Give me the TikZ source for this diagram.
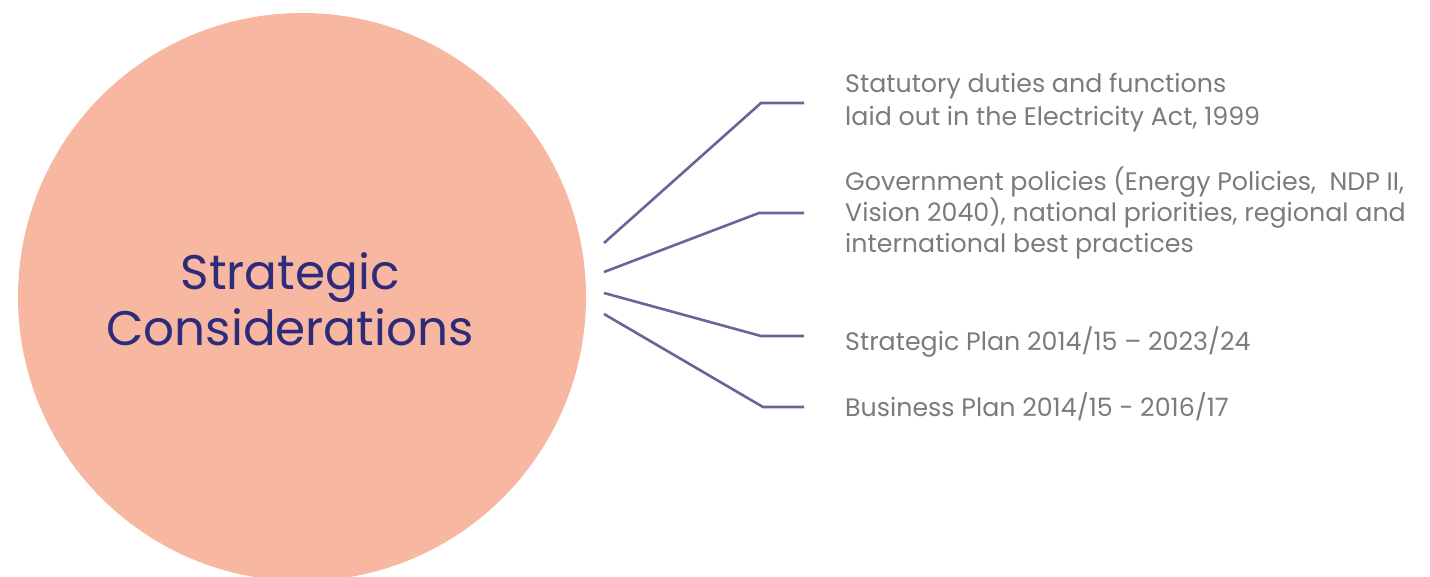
\documentclass[tikz,border=0pt]{standalone}
\usepackage{fontspec}
\setmainfont{Poppins}
\definecolor{circfill}{HTML}{F7B7A0}
\definecolor{navy}{HTML}{2E2C7A}
\definecolor{linecol}{HTML}{6E6399}
\definecolor{txtgray}{HTML}{7B7B7B}
\tikzset{
  conn/.style={draw=linecol, line width=2.6pt},
  item/.style={anchor=base west, inner sep=0pt, text=txtgray, font=\fontsize{25.3}{31}\selectfont, align=left},
}
\begin{document}
\begin{tikzpicture}[x=1pt,y=-1pt]
\useasboundingbox (0,0) rectangle (1430,577);
\begin{scope}
\clip (0,0) rectangle (1430,577);
\node[circle, fill=circfill, minimum size=568pt, inner sep=0pt] (c) at (302,297) {};
\end{scope}
\node[text=navy, align=center, anchor=base, inner sep=0pt, font=\fontsize{48.5}{55}\selectfont] (title) at (290,345) {Strategic\\Considerations};
% text blocks
\node[item, font=\fontsize{25.3}{33}\selectfont] (t1) at (845,126) {Statutory duties and functions\\laid out in the Electricity Act, 1999};
\node[item] (t2) at (845,253) {Government policies (Energy Policies,~ NDP II,\\Vision 2040), national priorities, regional and\\international best practices};
\node[item] (t3) at (845,351) {Strategic Plan 2014/15 -- 2023/24};
\node[item] (t4) at (845,416) {Business Plan 2014/15 - 2016/17};
% connectors
\coordinate (s1) at (604,243); \coordinate (b1) at (761,103); \coordinate (e1) at (804,103);
\coordinate (s2) at (604,272); \coordinate (b2) at (759,213); \coordinate (e2) at (804,213);
\coordinate (s3) at (604,293); \coordinate (b3) at (761,336); \coordinate (e3) at (804,336);
\coordinate (s4) at (604,314); \coordinate (b4) at (763,407); \coordinate (e4) at (804,407);
\draw[conn] (s1) -- (b1) -- (e1);
\draw[conn] (s2) -- (b2) -- (e2);
\draw[conn] (s3) -- (b3) -- (e3);
\draw[conn] (s4) -- (b4) -- (e4);
\end{tikzpicture}
\end{document}
